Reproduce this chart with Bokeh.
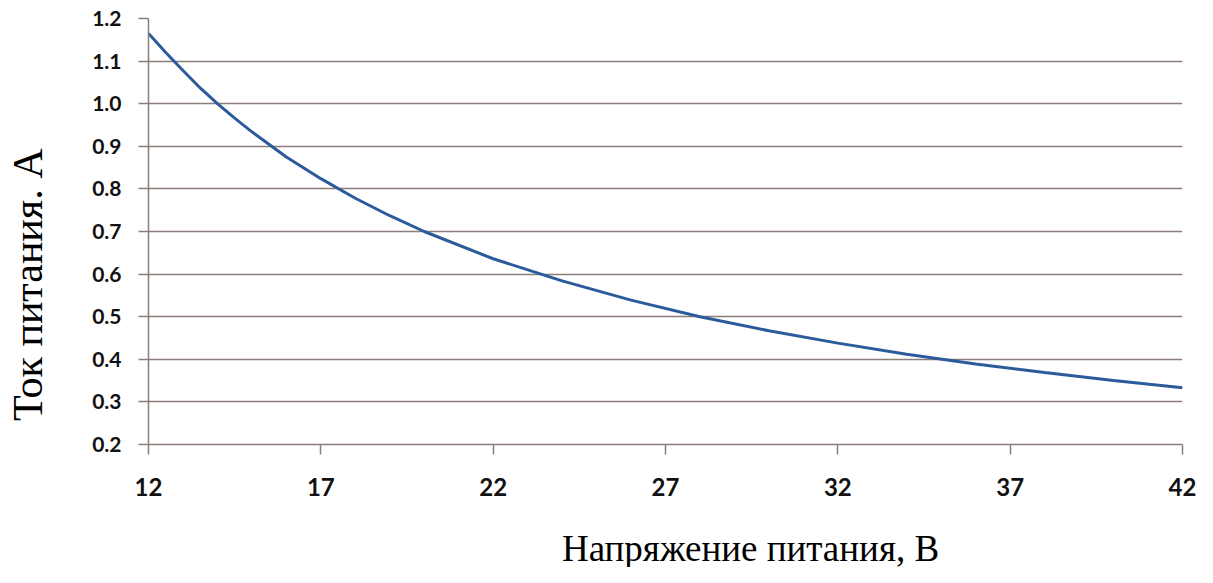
import math
from bokeh.plotting import figure
from bokeh.models import Label, Range1d, FixedTicker
from bokeh.embed import file_html
from bokeh.resources import INLINE

# Data
voltage = [12, 12.5, 13, 13.5, 14, 14.5, 15, 16, 17, 18, 19, 20, 22, 24, 26, 28, 30,
           32, 34, 36, 38, 40, 42]
current = [1.165, 1.12, 1.078, 1.037, 1.0, 0.966, 0.934, 0.875, 0.824, 0.778, 0.737,
           0.70, 0.636, 0.584, 0.539, 0.50, 0.467, 0.438, 0.412, 0.389, 0.369, 0.35, 0.333]
x_ticks = [12, 17, 22, 27, 32, 37, 42]
y_ticks = [0.2, 0.3, 0.4, 0.5, 0.6, 0.7, 0.8, 0.9, 1.0, 1.1, 1.2]
x_title = "Напряжение питания, В"
y_title = "Ток  питания. А"

GRID = "#8b7d77"
LINE = "#2c5b9c"

p = figure(width=1197, height=567, output_backend="svg", toolbar_location=None,
           x_range=Range1d(12, 42), y_range=Range1d(0.2, 1.2),
           min_border_left=148, min_border_right=15, min_border_top=18,
           min_border_bottom=123)
p.outline_line_color = None
p.background_fill_color = "white"

p.line(voltage, current, line_color=LINE, line_width=3)

p.xgrid.visible = False
p.ygrid.grid_line_color = GRID
p.ygrid.grid_line_width = 1.5
p.ygrid.ticker = FixedTicker(ticks=y_ticks)

p.xaxis.ticker = FixedTicker(ticks=x_ticks)
p.yaxis.ticker = FixedTicker(ticks=y_ticks)
p.yaxis.major_label_overrides = {t: f"{t:.1f}" for t in y_ticks}

for ax in (p.xaxis[0], p.yaxis[0]):
    ax.axis_line_color = GRID
    ax.axis_line_width = 1.5
    ax.major_tick_line_color = GRID
    ax.major_tick_line_width = 1.5
    ax.major_tick_out = 10
    ax.major_tick_in = 0
    ax.minor_tick_line_color = None
    ax.major_label_text_font = "Lato"
    ax.major_label_text_font_style = "bold"
    ax.major_label_text_color = "#111111"

p.xaxis.major_label_text_font_size = "24px"
p.xaxis.major_label_standoff = 23
p.yaxis.major_label_text_font_size = "21px"
p.yaxis.major_label_standoff = 17

p.add_layout(Label(x=750, y=548, x_units="canvas", y_units="canvas",
                   text=x_title, text_font="Liberation Serif", text_font_size="37px",
                   text_align="center", text_baseline="alphabetic", text_color="black"),
             "below")
p.add_layout(Label(x=27, y=279, x_units="canvas", y_units="canvas",
                   text=y_title, text_font="Liberation Serif", text_font_size="42px",
                   angle=math.pi / 2, text_align="center", text_baseline="alphabetic",
                   text_color="black"),
             "left")

open("out.html", "w").write(file_html(p, INLINE))
